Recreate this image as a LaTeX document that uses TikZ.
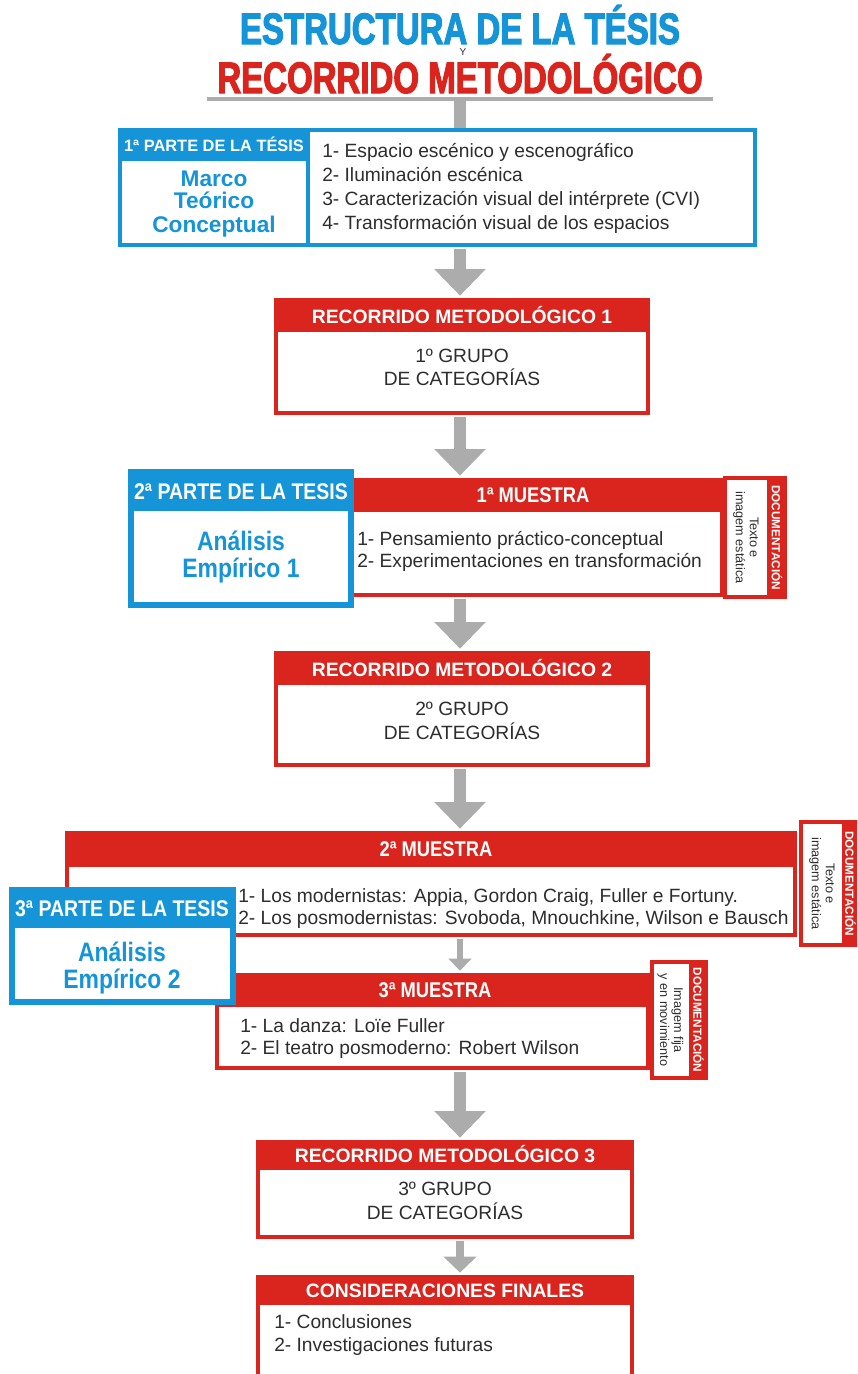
\documentclass[tikz,border=0pt]{standalone}
\usepackage{fontspec}
\setmainfont{Liberation Sans}
\newfontfamily\narrowfont[FakeStretch=0.86]{Liberation Sans}
\newfontfamily\heavyfont[FakeStretch=0.75,BoldFeatures={FakeBold=2.5}]{Liberation Sans}
\usetikzlibrary{fit,arrows.meta}

\definecolor{tblue}{RGB}{22,148,216}
\definecolor{tred}{RGB}{218,37,30}
\definecolor{tgray}{RGB}{172,172,172}
\definecolor{ttext}{RGB}{45,45,45}

\begin{document}
\begin{tikzpicture}[x=0.75pt,y=-0.75pt,
    redbox/.style={draw=tred,line width=3.5pt,fill=white,inner sep=0pt},
    bluebox/.style={draw=tblue,line width=3.5pt,fill=white,inner sep=0pt},
    redbar/.style={fill=tred,inner sep=0pt},
    bluebar/.style={fill=tblue,inner sep=0pt},
    docbox/.style={draw=tred,line width=2.5pt,fill=white,inner sep=0pt},
    titletxt/.style={inner sep=0pt,anchor=base,font=\heavyfont\bfseries\fontsize{33}{38}\selectfont},
    headtxt/.style={inner sep=0pt,anchor=base,text=white,font=\bfseries\fontsize{14.5}{17}\selectfont},
    nheadtxt/.style={inner sep=0pt,anchor=base,text=white,font=\narrowfont\bfseries\fontsize{16}{19}\selectfont},
    parttxt/.style={inner sep=0pt,anchor=base,text=tblue,font=\narrowfont\bfseries\fontsize{20}{22}\selectfont},
    marcotxt/.style={inner sep=0pt,anchor=base,text=tblue,font=\bfseries\fontsize{17}{19}\selectfont},
    bodytxt/.style={inner sep=0pt,anchor=base,text=ttext,font=\fontsize{14.4}{17}\selectfont},
    listtxt/.style={bodytxt,anchor=base west},
    doctxt/.style={inner sep=0pt,rotate=-90,align=center,text=ttext,font=\fontsize{9.5}{10.5}\selectfont},
    doctitle/.style={inner sep=0pt,rotate=-90,text=white,font=\bfseries\fontsize{8.8}{9}\selectfont},
    bigarrow/.style={draw=tgray,line width=9pt,shorten <=1.5pt,shorten >=1.5pt,-{Triangle[width=37.5pt,length=20pt]}},
    midarrow/.style={draw=tgray,line width=6.5pt,shorten <=1.5pt,shorten >=1.5pt,-{Triangle[width=24pt,length=12pt]}},
    smallarrow/.style={draw=tgray,line width=4.5pt,shorten <=1.5pt,shorten >=1.5pt,-{Triangle[width=17pt,length=9pt]}}
  ]
  \useasboundingbox (0,0) rectangle (857,1374);
  \clip (0,0) rectangle (857,1374);
  \coordinate (axis) at (460,0);
  \coordinate (rule) at (460,99);

  % title
  \node[titletxt,text=tblue] (title1) at (460,44) {ESTRUCTURA DE LA TÉSIS};
  \node[inner sep=0pt,anchor=base,text=ttext,font=\fontsize{7.5}{8}\selectfont] (titley) at (463,55) {Y};
  \node[titletxt,text=tred] (title2) at (460,93) {RECORRIDO METODOLÓGICO};
  \draw[tgray,line width=2.5pt] (207,99) -- (713,99);

  % 1a parte
  \node[bluebox,fit={(120,130) (755,245)}] (box1) {};
  \node[bluebox,fit={(120,130) (308,245)}] (part1) {};
  \node[bluebar,fit={(118,128) (310,161)}] (part1bar) {};
  \node[inner sep=0pt,anchor=base,text=white,font=\bfseries\fontsize{12.3}{14}\selectfont] (part1t) at (214,151.5) {1ª PARTE DE LA TÉSIS};
  \node[marcotxt] (marco) at (214,186) {Marco};
  \node[marcotxt] (teorico) at (214,208.5) {Teórico};
  \node[marcotxt] (concept) at (214,232.5) {Conceptual};
  \node[listtxt] (l11) at (322,157) {1- Espacio escénico y escenográfico};
  \node[listtxt] (l12) at (322,181.5) {2- Iluminación escénica};
  \node[listtxt] (l13) at (322,205) {3- Caracterización visual del intérprete (CVI)};
  \node[listtxt] (l14) at (322,229) {4- Transformación visual de los espacios};

  % recorrido 1
  \node[redbox,fit={(276,300) (648,413)}] (rm1) {};
  \node[redbar,fit={(274,298) (650,332)}] (rm1bar) {};
  \node[headtxt] (rm1t) at (462,323) {RECORRIDO METODOLÓGICO 1};
  \node[bodytxt] (rm1a) at (462,362) {1º GRUPO};
  \node[bodytxt] (rm1b) at (462,385) {DE CATEGORÍAS};

  % 1a muestra
  \node[redbox,fit={(351,480) (722,595)}] (mu1) {};
  \node[redbar,fit={(349,478) (724,512)}] (mu1bar) {};
  \node[nheadtxt] (mu1t) at (533,502) {1ª MUESTRA};
  \node[listtxt] (l21) at (357,545) {1- Pensamiento práctico-conceptual};
  \node[listtxt] (l22) at (357,567.5) {2- Experimentaciones en transformación};
  \node[bluebox,line width=4pt,fit={(131,472) (351,605)}] (part2) {};
  \node[bluebar,fit={(129,470) (353,511)}] (part2bar) {};
  \node[nheadtxt,font=\narrowfont\bfseries\fontsize{17}{19}\selectfont] (part2t) at (241,499) {2ª PARTE DE LA TESIS};
  \node[parttxt] (an1) at (241,550) {Análisis};
  \node[parttxt] (em1) at (241,577) {Empírico 1};
  \node[docbox,fit={(725,478) (785,597)}] (doc1) {};
  \node[redbar,fit={(767,476) (787,599)}] (doc1bar) {};
  \node[doctitle] (doc1t) at (777,537.5) {DOCUMENTACIÓN};
  \node[doctxt] (doc1x) at (746,537.5) {Texto e\\imagem estática};

  % recorrido 2
  \node[redbox,fit={(276,653) (648,765)}] (rm2) {};
  \node[redbar,fit={(274,651) (650,685)}] (rm2bar) {};
  \node[headtxt] (rm2t) at (462,676) {RECORRIDO METODOLÓGICO 2};
  \node[bodytxt] (rm2a) at (462,715) {2º GRUPO};
  \node[bodytxt] (rm2b) at (462,739) {DE CATEGORÍAS};

  % 2a muestra
  \node[redbox,fit={(67,833) (795,935)}] (mu2) {};
  \node[redbar,fit={(65,831) (797,867)}] (mu2bar) {};
  \node[nheadtxt] (mu2t) at (436,856) {2ª MUESTRA};
  \node[listtxt] (l31) at (238,902) {1- Los modernistas: Appia, Gordon Craig, Fuller e Fortuny.};
  \node[listtxt] (l32) at (238,924.5) {2- Los posmodernistas: Svoboda, Mnouchkine, Wilson e Bausch};
  \node[docbox,fit={(801,822) (866,945)}] (doc2) {};
  \node[redbar,fit={(842,820) (868,947)}] (doc2bar) {};
  \node[doctitle] (doc2t) at (850.5,883.5) {DOCUMENTACIÓN};
  \node[doctxt] (doc2x) at (822,883.5) {Texto e\\imagem estática};

  % 3a muestra
  \node[redbox,fit={(217,975) (648,1068)}] (mu3) {};
  \node[redbar,fit={(215,973) (650,1007)}] (mu3bar) {};
  \node[nheadtxt] (mu3t) at (435,997) {3ª MUESTRA};
  \node[listtxt] (l41) at (240,1032) {1- La danza: Loïe Fuller};
  \node[listtxt] (l42) at (240,1054.5) {2- El teatro posmoderno: Robert Wilson};
  \node[docbox,fit={(652,962) (706,1078)}] (doc3) {};
  \node[redbar,fit={(689,960) (708,1080)}] (doc3bar) {};
  \node[doctitle] (doc3t) at (698.5,1020) {DOCUMENTACIÓN};
  \node[doctxt] (doc3x) at (670.5,1020) {Imagem fija\\y en movimiento};
  \node[bluebox,line width=4pt,fit={(12,890) (233,1002)}] (part3) {};
  \node[bluebar,fit={(10,888) (235,928)}] (part3bar) {};
  \node[nheadtxt,font=\narrowfont\bfseries\fontsize{17}{19}\selectfont] (part3t) at (122,916) {3ª PARTE DE LA TESIS};
  \node[parttxt] (an2) at (122,961) {Análisis};
  \node[parttxt] (em2) at (122,988) {Empírico 2};

  % recorrido 3 y final
  \node[redbox,fit={(258,1142) (632,1237)}] (rm3) {};
  \node[redbar,fit={(256,1140) (634,1170)}] (rm3bar) {};
  \node[headtxt] (rm3t) at (445,1162) {RECORRIDO METODOLÓGICO 3};
  \node[bodytxt] (rm3a) at (445,1195) {3º GRUPO};
  \node[bodytxt] (rm3b) at (445,1219) {DE CATEGORÍAS};
  \node[redbox,fit={(258,1277) (632,1400)}] (cf) {};
  \node[redbar,fit={(256,1275) (634,1305)}] (cfbar) {};
  \node[headtxt] (cft) at (445,1297) {CONSIDERACIONES FINALES};
  \node[listtxt] (l51) at (274,1328) {1- Conclusiones};
  \node[listtxt] (l52) at (274,1351) {2- Investigaciones futuras};

  % flechas
  \draw[tgray,line width=9pt] (rule) -- (rule |- box1.north);
  \draw[bigarrow] (box1.south -| axis) -- (rm1.north -| axis);
  \draw[bigarrow] (rm1.south -| axis) -- (mu1.north -| axis);
  \draw[bigarrow] (mu1.south -| axis) -- (rm2.north -| axis);
  \draw[bigarrow] (rm2.south -| axis) -- (mu2.north -| axis);
  \draw[smallarrow] (mu2.south -| axis) -- (mu3.north -| axis);
  \draw[bigarrow] (mu3.south -| axis) -- (rm3.north -| axis);
  \draw[midarrow] (rm3.south -| axis) -- (cf.north -| axis);
\end{tikzpicture}
\end{document}
